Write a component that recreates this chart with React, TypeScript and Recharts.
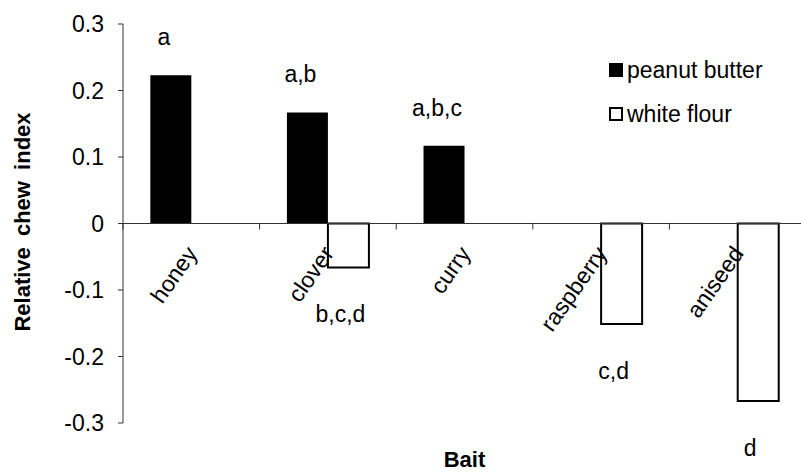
import React from 'react';
import {
  BarChart,
  Bar,
  XAxis,
  YAxis,
  ReferenceLine,
  LabelList,
} from 'recharts';

// bait categories and the relative chew index per bait type
const baits = ['honey', 'clover', 'curry', 'raspberry', 'aniseed'];
const peanutButter = [0.223, 0.167, 0.117, null, null];
const whiteFlour = [null, -0.066, null, -0.151, -0.267];

// significance letters
const pbLetters = ['a', 'a,b', 'a,b,c', '', ''];
const wfLetters = ['', 'b,c,d', '', 'c,d', 'd'];

const yTicks = [-0.3, -0.2, -0.1, 0, 0.1, 0.2, 0.3];

const seriesKeys = [
  { name: 'peanut butter', fill: '#000' },
  { name: 'white flour', fill: '#fff' },
];

const FONT = '"Liberation Sans", Arial, sans-serif';
const AXIS = '#333333';

const data = baits.map((bait, i) => ({
  bait,
  pb: peanutButter[i],
  wf: whiteFlour[i],
  pbLetter: pbLetters[i],
  wfLetter: wfLetters[i],
}));

const X_H = 1;
const MARGIN = { top: 24, right: 0, left: 0, bottom: 49 - X_H };
const CHART_H = 472;
// y of value 0 (domain is symmetric)
const zeroY = MARGIN.top + (CHART_H - MARGIN.top - MARGIN.bottom - X_H) / 2;

const BaitTick = (props: any) => {
  const { x, payload } = props;
  const half = payload.offset ?? 68;
  const tx = x + 7;
  const ty = zeroY + 30;
  return (
    <g>
      <line x1={x - half} y1={zeroY} x2={x - half} y2={zeroY + 6} stroke={AXIS} />
      <text
        x={tx}
        y={ty}
        textAnchor="end"
        fontSize={23}
        fontFamily={FONT}
        fill="#000"
        transform={`rotate(-55, ${tx}, ${ty})`}
      >
        {payload.value}
      </text>
    </g>
  );
};

const TopLetter = (props: any) => {
  const { x, y, width, height, value } = props;
  if (!value) return null;
  const top = Math.min(y, y + height);
  return (
    <text
      x={x + width / 2 - 7}
      y={top - 38}
      textAnchor="middle"
      dominantBaseline="central"
      fontSize={23}
      fontFamily={FONT}
      fill="#000"
    >
      {value}
    </text>
  );
};

const BottomLetter = (props: any) => {
  const { x, y, width, height, value } = props;
  if (!value) return null;
  const bottom = Math.max(y, y + height);
  return (
    <text
      x={x + width / 2 - 8}
      y={bottom + 47}
      textAnchor="middle"
      dominantBaseline="central"
      fontSize={23}
      fontFamily={FONT}
      fill="#000"
    >
      {value}
    </text>
  );
};

const YTitle = () => (
  <text
    x={22}
    y={222}
    textAnchor="middle"
    dominantBaseline="central"
    fontSize={22}
    fontWeight="bold"
    fontFamily={FONT}
    style={{ wordSpacing: 5 }}
    transform="rotate(-90, 22, 222)"
  >
    Relative chew index
  </text>
);

const LegendBox = () => (
  <div
    style={{
      position: 'absolute',
      left: 609,
      top: 48,
      fontFamily: FONT,
      fontSize: 23,
      color: '#000',
    }}
  >
    {seriesKeys.map((item) => (
      <div key={item.name} style={{ display: 'flex', alignItems: 'center', height: 44 }}>
        <span
          style={{
            display: 'inline-block',
            width: 10,
            height: 10,
            border: '2px solid #000',
            background: item.fill,
            marginRight: 4,
          }}
        />
        <span>{item.name}</span>
      </div>
    ))}
  </div>
);

export default function App() {
  return (
    <div
      style={{
        position: 'absolute',
        left: 0,
        top: 0,
        width: 801,
        height: 472,
        overflow: 'hidden',
        background: '#fff',
      }}
    >
      <BarChart
        width={806}
        height={CHART_H}
        data={data}
        margin={MARGIN}
        barCategoryGap="20%"
        barGap={0}
      >
        <XAxis
          dataKey="bait"
          height={X_H}
          axisLine={false}
          tickLine={false}
          tick={<BaitTick />}
          interval={0}
          label={{
            value: 'Bait',
            position: 'bottom',
            offset: 27,
            fontSize: 22,
            fontWeight: 'bold',
            fontFamily: FONT,
            fill: '#000',
          }}
        />
        <YAxis
          width={123}
          domain={[-0.3, 0.3]}
          ticks={yTicks}
          interval={0}
          allowDataOverflow
          tickSize={5}
          tickMargin={14}
          axisLine={{ stroke: AXIS }}
          tickLine={{ stroke: AXIS }}
          tick={{ fontSize: 23, fontFamily: FONT, fill: '#000' }}
          label={<YTitle />}
        />
        <ReferenceLine y={0} stroke={AXIS} />
        <Bar dataKey="pb" name="peanut butter" fill="#000" isAnimationActive={false}>
          <LabelList dataKey="pbLetter" content={<TopLetter />} />
        </Bar>
        <Bar
          dataKey="wf"
          name="white flour"
          fill="#fff"
          stroke="#000"
          strokeWidth={2}
          isAnimationActive={false}
        >
          <LabelList dataKey="wfLetter" content={<BottomLetter />} />
        </Bar>
      </BarChart>
      <LegendBox />
    </div>
  );
}
